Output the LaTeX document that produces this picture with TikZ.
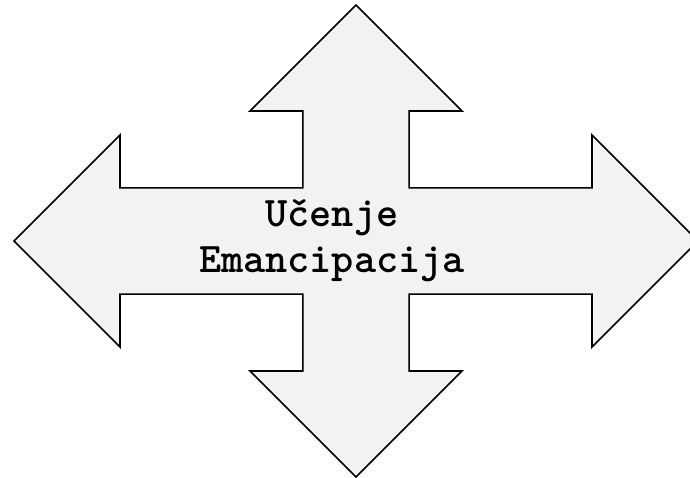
\documentclass[tikz,border=0pt]{standalone}
\usepackage{fontspec}
\usepackage{tikz}
\usetikzlibrary{positioning}
\usepackage{xcolor}
\definecolor{arrowgray}{HTML}{F2F2F2}
\tikzset{%
	cross arrow/.style={
		draw=black,
		fill=arrowgray,
		line width=1.1pt,
		line join=miter
	},
	arrow label/.style={
		align=center,
		font=\ttfamily\bfseries\fontsize{30}{33}\selectfont
	},
}

\begin{document}
\begin{tikzpicture}
			% Fix the frame of the picture
			\useasboundingbox (-8.9,-5.925) rectangle (8.35,6.025);
			\clip (-8.9,-5.925) rectangle (8.35,6.025);
			
			% Draw the four-way arrow
			\draw[cross arrow] (0,5.9) -- (2.65,3.25) -- (1.33,3.25) -- (1.33,1.33)
				-- (5.9,1.33) -- (5.9,2.65) -- (8.55,0) -- (5.9,-2.65) -- (5.9,-1.33)
				-- (1.33,-1.33) -- (1.33,-3.25) -- (2.65,-3.25) -- (0,-5.9)
				-- (-2.65,-3.25) -- (-1.33,-3.25) -- (-1.33,-1.33) -- (-5.9,-1.33)
				-- (-5.9,-2.65) -- (-8.55,0) -- (-5.9,2.65) -- (-5.9,1.33)
				-- (-1.33,1.33) -- (-1.33,3.25) -- (-2.65,3.25) -- cycle;
			
			% Label in the middle
			\node[arrow label] (learning) at (-0.6,0) {Učenje\\Emancipacija};
			
		\end{tikzpicture}
\end{document}
